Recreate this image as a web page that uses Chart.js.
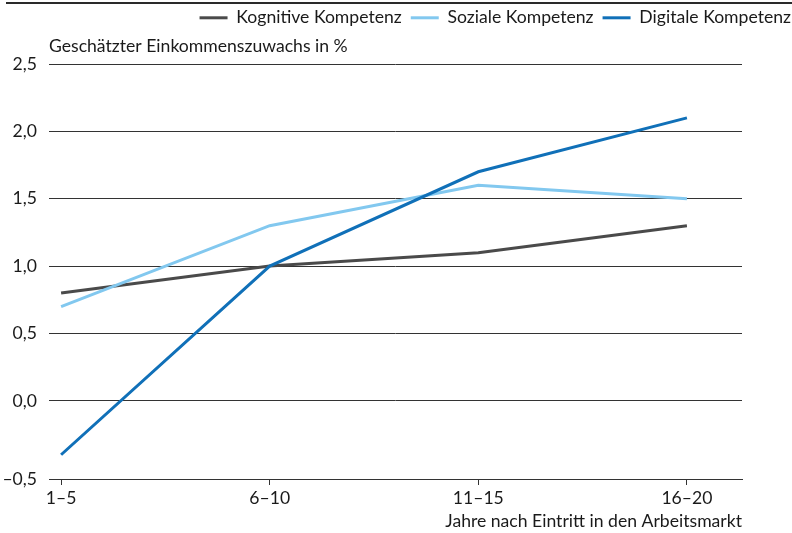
<!DOCTYPE html>
<html><head><meta charset="utf-8">
<script src="https://cdn.jsdelivr.net/npm/chart.js@4"></script>
<style>html,body{margin:0;padding:0;background:#fff}#wrap{width:792px;height:533px}</style>
</head><body><div id="wrap"><canvas id="c" width="792" height="533"></canvas></div>
<script>
const categories = ['1–5', '6–10', '11–15', '16–20'];
const kognitive = [0.8, 1.0, 1.1, 1.3];
const soziale = [0.7, 1.3, 1.6, 1.5];
const digitale = [-0.4, 1.0, 1.7, 2.1];
const seriesNames = ['Kognitive Kompetenz', 'Soziale Kompetenz', 'Digitale Kompetenz'];
const yTickValues = [-0.58, 0, 0.5, 1, 1.5, 2, 2.5];
const yTickLabels = ['–0,5', '0,0', '0,5', '1,0', '1,5', '2,0', '2,5'];
const yTitle = 'Geschätzter Einkommenszuwachs in %';
const xTitle = 'Jahre nach Eintritt in den Arbeitsmarkt';

const FS = 17.6;
Chart.defaults.font.family = 'Lato';
Chart.defaults.font.size = FS;
Chart.defaults.color = '#1a1a1a';

const toPts = arr => arr.map((v, i) => ({ x: i, y: v }));
const colors = ['#4a4a4a', '#82c8ef', '#1070b8'];
const series = [kognitive, soziale, digitale];
const orders = [2, 1, 0];

const decor = {
  id: 'decor',
  beforeInit(chart) {
    const lg = chart.legend;
    if (lg) {
      const f = lg.fit;
      lg.fit = function () { f.call(this); this.height = 64; };
      const d = lg.draw;
      lg.draw = function () {
        const r = this.right;
        this.right = r + 8;
        d.call(this);
        this.right = r;
      };
    }
  },
  afterDraw(chart) {
    const ctx = chart.ctx;
    ctx.save();
    ctx.fillStyle = '#2a2a2a';
    ctx.fillRect(6, 2, 786, 2);
    ctx.font = FS + 'px Lato';
    ctx.fillStyle = '#1a1a1a';
    ctx.textBaseline = 'middle';
    ctx.textAlign = 'left';
    ctx.fillText(yTitle, chart.chartArea.left, chart.chartArea.top - 18);
    ctx.restore();
  }
};

new Chart(document.getElementById('c'), {
  type: 'line',
  data: {
    datasets: series.map((s, i) => ({
      label: seriesNames[i],
      data: toPts(s),
      borderColor: colors[i],
      backgroundColor: colors[i],
      borderWidth: 3,
      pointRadius: 0,
      tension: 0,
      order: orders[i],
      yAxisID: 'y'
    }))
  },
  options: {
    responsive: false,
    devicePixelRatio: 1,
    animation: false,
    layout: { padding: 0 },
    plugins: {
      tooltip: { enabled: false },
      legend: {
        position: 'top',
        align: 'end',
        labels: {
          usePointStyle: true,
          pointStyle: 'line',
          pointStyleWidth: 28,
          boxHeight: FS,
          padding: 9,
          color: '#1a1a1a',
          font: { size: FS },
          sort: (a, b) => a.datasetIndex - b.datasetIndex
        }
      }
    },
    scales: {
      x: {
        type: 'linear',
        min: -0.058,
        max: 3.264,
        afterBuildTicks: s => { s.ticks = categories.map((c, i) => ({ value: i })); },
        afterFit: s => { s.height = 54; },
        ticks: { callback: (v, i) => categories[i], autoSkip: false, maxRotation: 0, padding: 3 },
        grid: { drawOnChartArea: false, drawTicks: true, tickLength: 6, color: '#333' },
        border: { display: true, color: '#333', width: 1 },
        title: { display: true, text: xTitle, align: 'end', padding: { top: 0, bottom: 1 }, font: { size: FS } }
      },
      y: {
        type: 'linear',
        position: 'left',
        min: yTickValues[0],
        max: yTickValues[yTickValues.length - 1],
        afterBuildTicks: s => { s.ticks = yTickValues.map(v => ({ value: v })); },
        afterFit: s => { s.width = 49; },
        ticks: { callback: (v, i) => yTickLabels[i], padding: 12, autoSkip: false },
        grid: { color: '#333', lineWidth: 1, drawTicks: false },
        border: { display: false }
      },
      yRight: {
        type: 'linear',
        position: 'right',
        display: true,
        afterFit: s => { s.width = 50; },
        ticks: { display: false },
        grid: { display: false, drawTicks: false },
        border: { display: false }
      }
    }
  },
  plugins: [decor]
});
</script>
</body></html>
